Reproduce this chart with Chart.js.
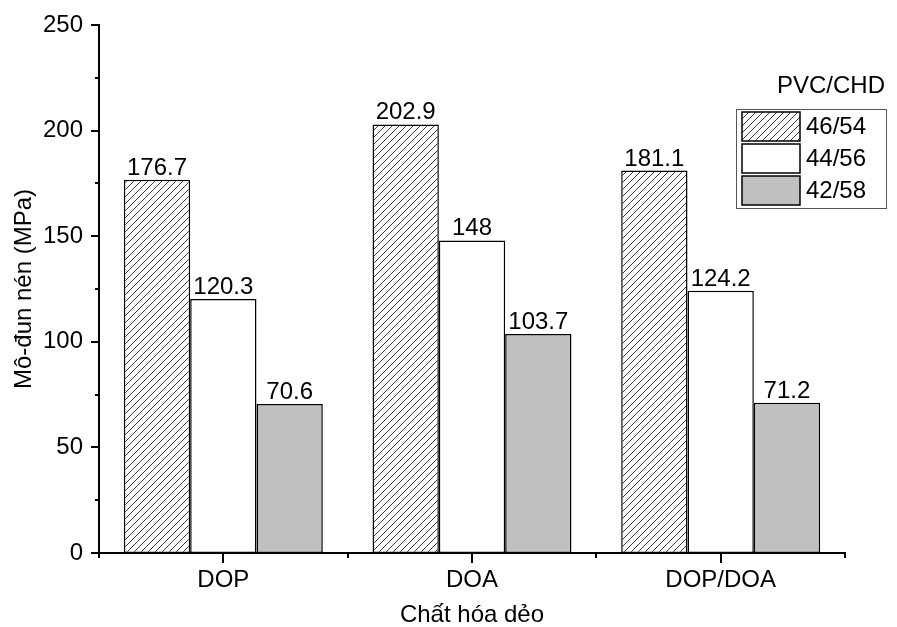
<!DOCTYPE html>
<html>
<head>
<meta charset="utf-8">
<script src="https://cdn.jsdelivr.net/npm/chart.js@4.4.1/dist/chart.umd.min.js"></script>
<style>
  html, body { margin: 0; padding: 0; background: #fff; }
  #wrap { width: 897px; height: 627px; position: relative; }
</style>
</head>
<body>
<div id="wrap"><canvas id="c" width="897" height="627"></canvas></div>
<script>
// ---- Data ----
const categories = ['DOP', 'DOA', 'DOP/DOA'];
const seriesLabels = ['46/54', '44/56', '42/58'];
const series4654 = [176.7, 202.9, 181.1];
const series4456 = [120.3, 148, 124.2];
const series4258 = [70.6, 103.7, 71.2];
const yTickValues = [0, 50, 100, 150, 200, 250];
const yMinorStep = 25;
const legendTitle = 'PVC/CHD';
const xTitle = 'Chất hóa dẻo';
const yTitle = 'Mô-đun nén (MPa)';

const FONT = '"Liberation Sans", Arial, sans-serif';
const FS = 24;

// hatch pattern
function makeHatch() {
  const s = 7;
  const c = document.createElement('canvas');
  c.width = s; c.height = s;
  const g = c.getContext('2d');
  g.fillStyle = '#ffffff';
  g.fillRect(0, 0, s, s);
  g.strokeStyle = '#3a3a3a';
  g.lineWidth = 1;
  g.beginPath();
  g.moveTo(-1, s + 1); g.lineTo(s + 1, -1);
  g.moveTo(-1, 1); g.lineTo(1, -1);
  g.moveTo(s - 1, s + 1); g.lineTo(s + 1, s - 1);
  g.stroke();
  return document.getElementById('c').getContext('2d').createPattern(c, 'repeat');
}
const hatch = makeHatch();

const fills = [hatch, '#ffffff', '#c0c0c0'];

const axesPlugin = {
  id: 'axesPlugin',
  afterDraw(chart) {
    const ctx = chart.ctx;
    const ca = chart.chartArea;
    const xs = chart.scales.x, ys = chart.scales.y;
    ctx.save();
    ctx.strokeStyle = '#000';
    ctx.lineWidth = 2;
    ctx.lineCap = 'square';
    ctx.beginPath();
    ctx.moveTo(ca.left, ca.top); ctx.lineTo(ca.left, ca.bottom);
    ctx.moveTo(ca.left, ca.bottom); ctx.lineTo(ca.right, ca.bottom);
    ctx.stroke();
    ctx.lineCap = 'butt';
    ctx.beginPath();
    // y ticks
    for (let v = ys.min; v <= ys.max + 1e-9; v += yMinorStep) {
      const py = Math.round(ys.getPixelForValue(v));
      const major = yTickValues.includes(v);
      ctx.moveTo(ca.left, py); ctx.lineTo(ca.left - (major ? 8 : 4), py);
    }
    // x ticks
    const n = categories.length;
    for (let i = 0; i < n; i++) {
      const px = Math.round(xs.getPixelForValue(i));
      ctx.moveTo(px, ca.bottom); ctx.lineTo(px, ca.bottom + 10);
    }
    for (let i = 0; i <= n; i++) {
      const px = Math.round(xs.getPixelForValue(i - 0.5));
      ctx.moveTo(px, ca.bottom); ctx.lineTo(px, ca.bottom + 5);
    }
    ctx.stroke();

    // data labels
    ctx.fillStyle = '#000';
    ctx.font = FS + 'px ' + FONT;
    ctx.textAlign = 'center';
    ctx.textBaseline = 'alphabetic';
    chart.data.datasets.forEach((ds, di) => {
      const meta = chart.getDatasetMeta(di);
      meta.data.forEach((bar, i) => {
        ctx.fillText(String(ds.data[i]), bar.x, bar.y - 5);
      });
    });

    // legend
    ctx.textAlign = 'left';
    ctx.textBaseline = 'alphabetic';
    ctx.fillText(legendTitle, 777, 93);
    ctx.lineWidth = 1;
    ctx.strokeStyle = '#555';
    ctx.strokeRect(736.5, 109.5, 150, 99);
    const rowY = [112, 144, 176];
    ctx.textBaseline = 'middle';
    chart.data.datasets.forEach((ds, di) => {
      const y = rowY[di];
      ctx.fillStyle = ds.backgroundColor;
      ctx.fillRect(742, y, 58, 29);
      ctx.lineWidth = 1.5;
      ctx.strokeStyle = '#000';
      ctx.strokeRect(742, y, 58, 29);
      ctx.fillStyle = '#000';
      ctx.fillText(ds.label, 806, y + 15);
    });
    ctx.restore();
  }
};

const datasetValues = [series4654, series4456, series4258];

new Chart(document.getElementById('c'), {
  type: 'bar',
  data: {
    labels: categories,
    datasets: seriesLabels.map((lab, i) => ({
      label: lab,
      data: datasetValues[i],
      backgroundColor: fills[i],
      borderColor: '#000',
      borderWidth: 1.5,
      borderSkipped: false,
      categoryPercentage: 0.8,
      barPercentage: 1.0
    }))
  },
  options: {
    responsive: false,
    animation: false,
    devicePixelRatio: 1,
    layout: { padding: { left: 0, top: 25, right: 52, bottom: 0 } },
    plugins: {
      legend: { display: false },
      tooltip: { enabled: false }
    },
    scales: {
      x: {
        type: 'category',
        offset: true,
        grid: { display: false, drawTicks: false },
        border: { display: false },
        ticks: { color: '#000', font: { family: FONT, size: FS }, padding: 13, maxRotation: 0 },
        title: { display: true, text: xTitle, color: '#000', font: { family: FONT, size: FS, lineHeight: 1 }, padding: { top: 0, bottom: 0 } },
        afterFit(s) { s.height = 74; s.paddingLeft = 0; s.paddingRight = 0; }
      },
      y: {
        min: 0, max: 250,
        afterBuildTicks(s) { s.ticks = yTickValues.map(v => ({ value: v })); },
        grid: { display: false, drawTicks: false },
        border: { display: false },
        ticks: { color: '#000', font: { family: FONT, size: FS }, padding: 16 },
        title: { display: true, text: yTitle, color: '#000', font: { family: FONT, size: FS, lineHeight: 1 }, padding: { top: 12, bottom: 0 } },
        afterFit(s) { s.width = 99; s.paddingTop = 0; s.paddingBottom = 0; }
      }
    }
  },
  plugins: [axesPlugin]
});
</script>
</body>
</html>
